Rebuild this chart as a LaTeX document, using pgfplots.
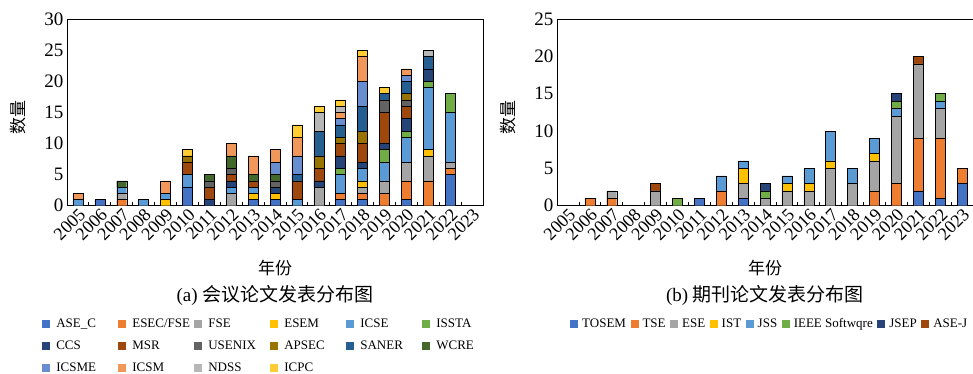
\documentclass[border=0pt]{standalone}
\usepackage{pgfplots}
\pgfplotsset{compat=1.18}
\usepackage{pgfplotstable}
\usepackage{fontspec}
\setmainfont{Liberation Serif}
\newfontfamily\cjk{Noto Sans CJK SC}

\definecolor{c1}{HTML}{4472C4}
\definecolor{c2}{HTML}{ED7D31}
\definecolor{c3}{HTML}{A5A5A5}
\definecolor{c4}{HTML}{FFC000}
\definecolor{c5}{HTML}{5B9BD5}
\definecolor{c6}{HTML}{70AD47}
\definecolor{c7}{HTML}{264478}
\definecolor{c8}{HTML}{9E480E}
\definecolor{c9}{HTML}{636363}
\definecolor{c10}{HTML}{997300}
\definecolor{c11}{HTML}{255E91}
\definecolor{c12}{HTML}{43682B}
\definecolor{c13}{HTML}{698ED0}
\definecolor{c14}{HTML}{F1975A}
\definecolor{c15}{HTML}{B7B7B7}
\definecolor{c16}{HTML}{FFCD33}

\pgfplotstableread{
x ASEC ESECFSE FSE ESEM ICSE ISSTA CCS MSR USENIX APSEC SANER WCRE ICSME ICSM NDSS ICPC
0  0 0 0 0 1 0 0 0 0 0 0 0 0 1 0 0
1  1 0 0 0 0 0 0 0 0 0 0 0 0 0 0 0
2  0 1 1 0 1 0 0 0 0 0 0 1 0 0 0 0
3  0 0 0 0 1 0 0 0 0 0 0 0 0 0 0 0
4  0 0 0 1 1 0 0 0 0 0 0 0 0 2 0 0
5  3 0 0 0 2 0 0 2 0 1 0 0 0 0 0 1
6  0 0 0 0 0 0 1 2 1 0 0 1 0 0 0 0
7  0 0 2 0 1 0 1 1 1 0 0 2 0 2 0 0
8  1 0 0 1 1 0 0 1 0 0 0 1 0 3 0 0
9  1 0 0 1 0 0 1 0 1 0 0 1 2 2 0 0
10 0 0 0 0 1 0 0 3 0 0 1 0 3 3 0 2
11 0 0 3 0 0 0 1 2 0 2 4 0 0 0 3 1
12 1 1 0 0 3 1 2 2 0 1 2 0 1 1 1 1
13 1 1 1 1 2 0 1 3 0 2 4 0 4 4 0 1
14 0 2 2 0 3 2 1 5 2 0 1 0 0 0 0 1
15 1 3 3 0 4 1 2 2 1 1 2 0 1 1 0 0
16 0 4 4 1 10 1 2 0 0 0 2 0 0 0 1 0
17 5 1 1 0 8 3 0 0 0 0 0 0 0 0 0 0
18 0 0 0 0 0 0 0 0 0 0 0 0 0 0 0 0
}\conf

\pgfplotstableread{
x TOSEM TSE ESE IST JSS IEEE JSEP ASEJ
0  0 0 0 0 0 0 0 0
1  0 1 0 0 0 0 0 0
2  0 1 1 0 0 0 0 0
3  0 0 0 0 0 0 0 0
4  0 0 2 0 0 0 0 1
5  0 0 0 0 0 1 0 0
6  1 0 0 0 0 0 0 0
7  0 2 0 0 2 0 0 0
8  1 0 2 2 1 0 0 0
9  0 0 1 0 0 1 1 0
10 0 0 2 1 1 0 0 0
11 0 0 2 1 2 0 0 0
12 0 0 5 1 4 0 0 0
13 0 0 3 0 2 0 0 0
14 0 2 4 1 2 0 0 0
15 0 3 9 0 1 1 1 0
16 2 7 10 0 0 0 0 1
17 1 8 4 0 1 1 0 0
18 3 2 0 0 0 0 0 0
}\jour

\pgfplotsset{
  mychart/.style={
    scale only axis, width=416pt, height=186.7pt,
    ybar stacked, bar width=10pt,
    xmin=-0.5, xmax=18.5, ymin=0,
    enlarge x limits=false, enlarge y limits=false,
    xtick={0,...,18},
    xticklabels={2005,2006,2007,2008,2009,2010,2011,2012,2013,2014,2015,2016,2017,2018,2019,2020,2021,2022,2023},
    minor xtick={0.5,1.5,...,17.5},
    major x tick style={draw=none},
    major y tick style={draw=none},
    minor tick length=4pt, tick align=inside,
    xtick pos=bottom, ytick pos=left,
    x tick label style={rotate=45, anchor=north east, font=\fontsize{18}{18}\selectfont, inner sep=1pt},
    y tick label style={font=\fontsize{19}{19}\selectfont},
    /pgf/number format/assume math mode=true,
    axis line style={black, line width=0.8pt},
    every minor tick/.style={black, line width=0.8pt},
    ylabel={\cjk 数量},
    ylabel style={font=\cjk\fontsize{17}{17}\selectfont, at={(axis description cs:-0.118,0.47)}, anchor=center},
    xlabel={\cjk 年份},
    xlabel style={font=\cjk\fontsize{17}{17}\selectfont, at={(axis description cs:0.5,-0.334)}, anchor=center},
    legend image code/.code={\draw[#1,draw=none] (0pt,-4pt) rectangle (8pt,4pt);},
    legend cell align=left,
  }
}

\begin{document}
\begin{tikzpicture}
\begin{axis}[mychart, at={(67pt,-205.7pt)}, anchor=south west,
  ymax=30, ytick={0,5,...,30},
  legend columns=6,
  legend style={at={(axis description cs:-0.067,-0.585)}, anchor=north west, draw=none, fill=none,
    font=\fontsize{13}{15}\selectfont,
    /tikz/every odd column/.append style={column sep=5pt},
    /tikz/every even column/.append style={column sep=0pt},
    row sep=8pt, nodes={inner sep=1pt, text height=9pt, text depth=3pt}},
]
\addplot[fill=c1]  table[x=x,y=ASEC]    {\conf};
\addplot[fill=c2]  table[x=x,y=ESECFSE] {\conf};
\addplot[fill=c3]  table[x=x,y=FSE]     {\conf};
\addplot[fill=c4]  table[x=x,y=ESEM]    {\conf};
\addplot[fill=c5]  table[x=x,y=ICSE]    {\conf};
\addplot[fill=c6]  table[x=x,y=ISSTA]   {\conf};
\addplot[fill=c7]  table[x=x,y=CCS]     {\conf};
\addplot[fill=c8]  table[x=x,y=MSR]     {\conf};
\addplot[fill=c9]  table[x=x,y=USENIX]  {\conf};
\addplot[fill=c10] table[x=x,y=APSEC]   {\conf};
\addplot[fill=c11] table[x=x,y=SANER]   {\conf};
\addplot[fill=c12] table[x=x,y=WCRE]    {\conf};
\addplot[fill=c13] table[x=x,y=ICSME]   {\conf};
\addplot[fill=c14] table[x=x,y=ICSM]    {\conf};
\addplot[fill=c15] table[x=x,y=NDSS]    {\conf};
\addplot[fill=c16] table[x=x,y=ICPC]    {\conf};
\legend{\makebox[61pt][l]{ASE\_C},\makebox[61pt][l]{ESEC/FSE},\makebox[61pt][l]{FSE},\makebox[61pt][l]{ESEM},\makebox[61pt][l]{ICSE},\makebox[61pt][l]{ISSTA},
\makebox[61pt][l]{CCS},\makebox[61pt][l]{MSR},\makebox[61pt][l]{USENIX},\makebox[61pt][l]{APSEC},\makebox[61pt][l]{SANER},\makebox[61pt][l]{WCRE},
\makebox[61pt][l]{ICSME},\makebox[61pt][l]{ICSM},\makebox[61pt][l]{NDSS},\makebox[61pt][l]{ICPC}}
\end{axis}

\begin{axis}[mychart, at={(557pt,-205.7pt)}, anchor=south west,
  ymax=25, ytick={0,5,...,25},
  legend columns=8,
  legend style={at={(axis description cs:0.024,-0.585)}, anchor=north west, draw=none, fill=none,
    font=\fontsize{13}{15}\selectfont,
    /tikz/every odd column/.append style={column sep=3pt},
    /tikz/every even column/.append style={column sep=3.5pt},
    nodes={inner sep=1pt, text height=9pt, text depth=3pt}},
]
\addplot[fill=c1] table[x=x,y=TOSEM] {\jour};
\addplot[fill=c2] table[x=x,y=TSE]   {\jour};
\addplot[fill=c3] table[x=x,y=ESE]   {\jour};
\addplot[fill=c4] table[x=x,y=IST]   {\jour};
\addplot[fill=c5] table[x=x,y=JSS]   {\jour};
\addplot[fill=c6] table[x=x,y=IEEE]  {\jour};
\addplot[fill=c7] table[x=x,y=JSEP]  {\jour};
\addplot[fill=c8] table[x=x,y=ASEJ]  {\jour};
\legend{TOSEM,TSE,ESE,IST,JSS,IEEE Softwqre,JSEP,ASE-J}
\end{axis}

\node[font=\fontsize{19}{19}\selectfont] at (275pt,-295pt) {(a) {\cjk 会议论文发表分布图}};
\node[font=\fontsize{19}{19}\selectfont] at (765pt,-295pt) {(b) {\cjk 期刊论文发表分布图}};

\pgfresetboundingbox
\path (0pt,0pt) rectangle (973pt,-374pt);
\end{tikzpicture}
\end{document}
